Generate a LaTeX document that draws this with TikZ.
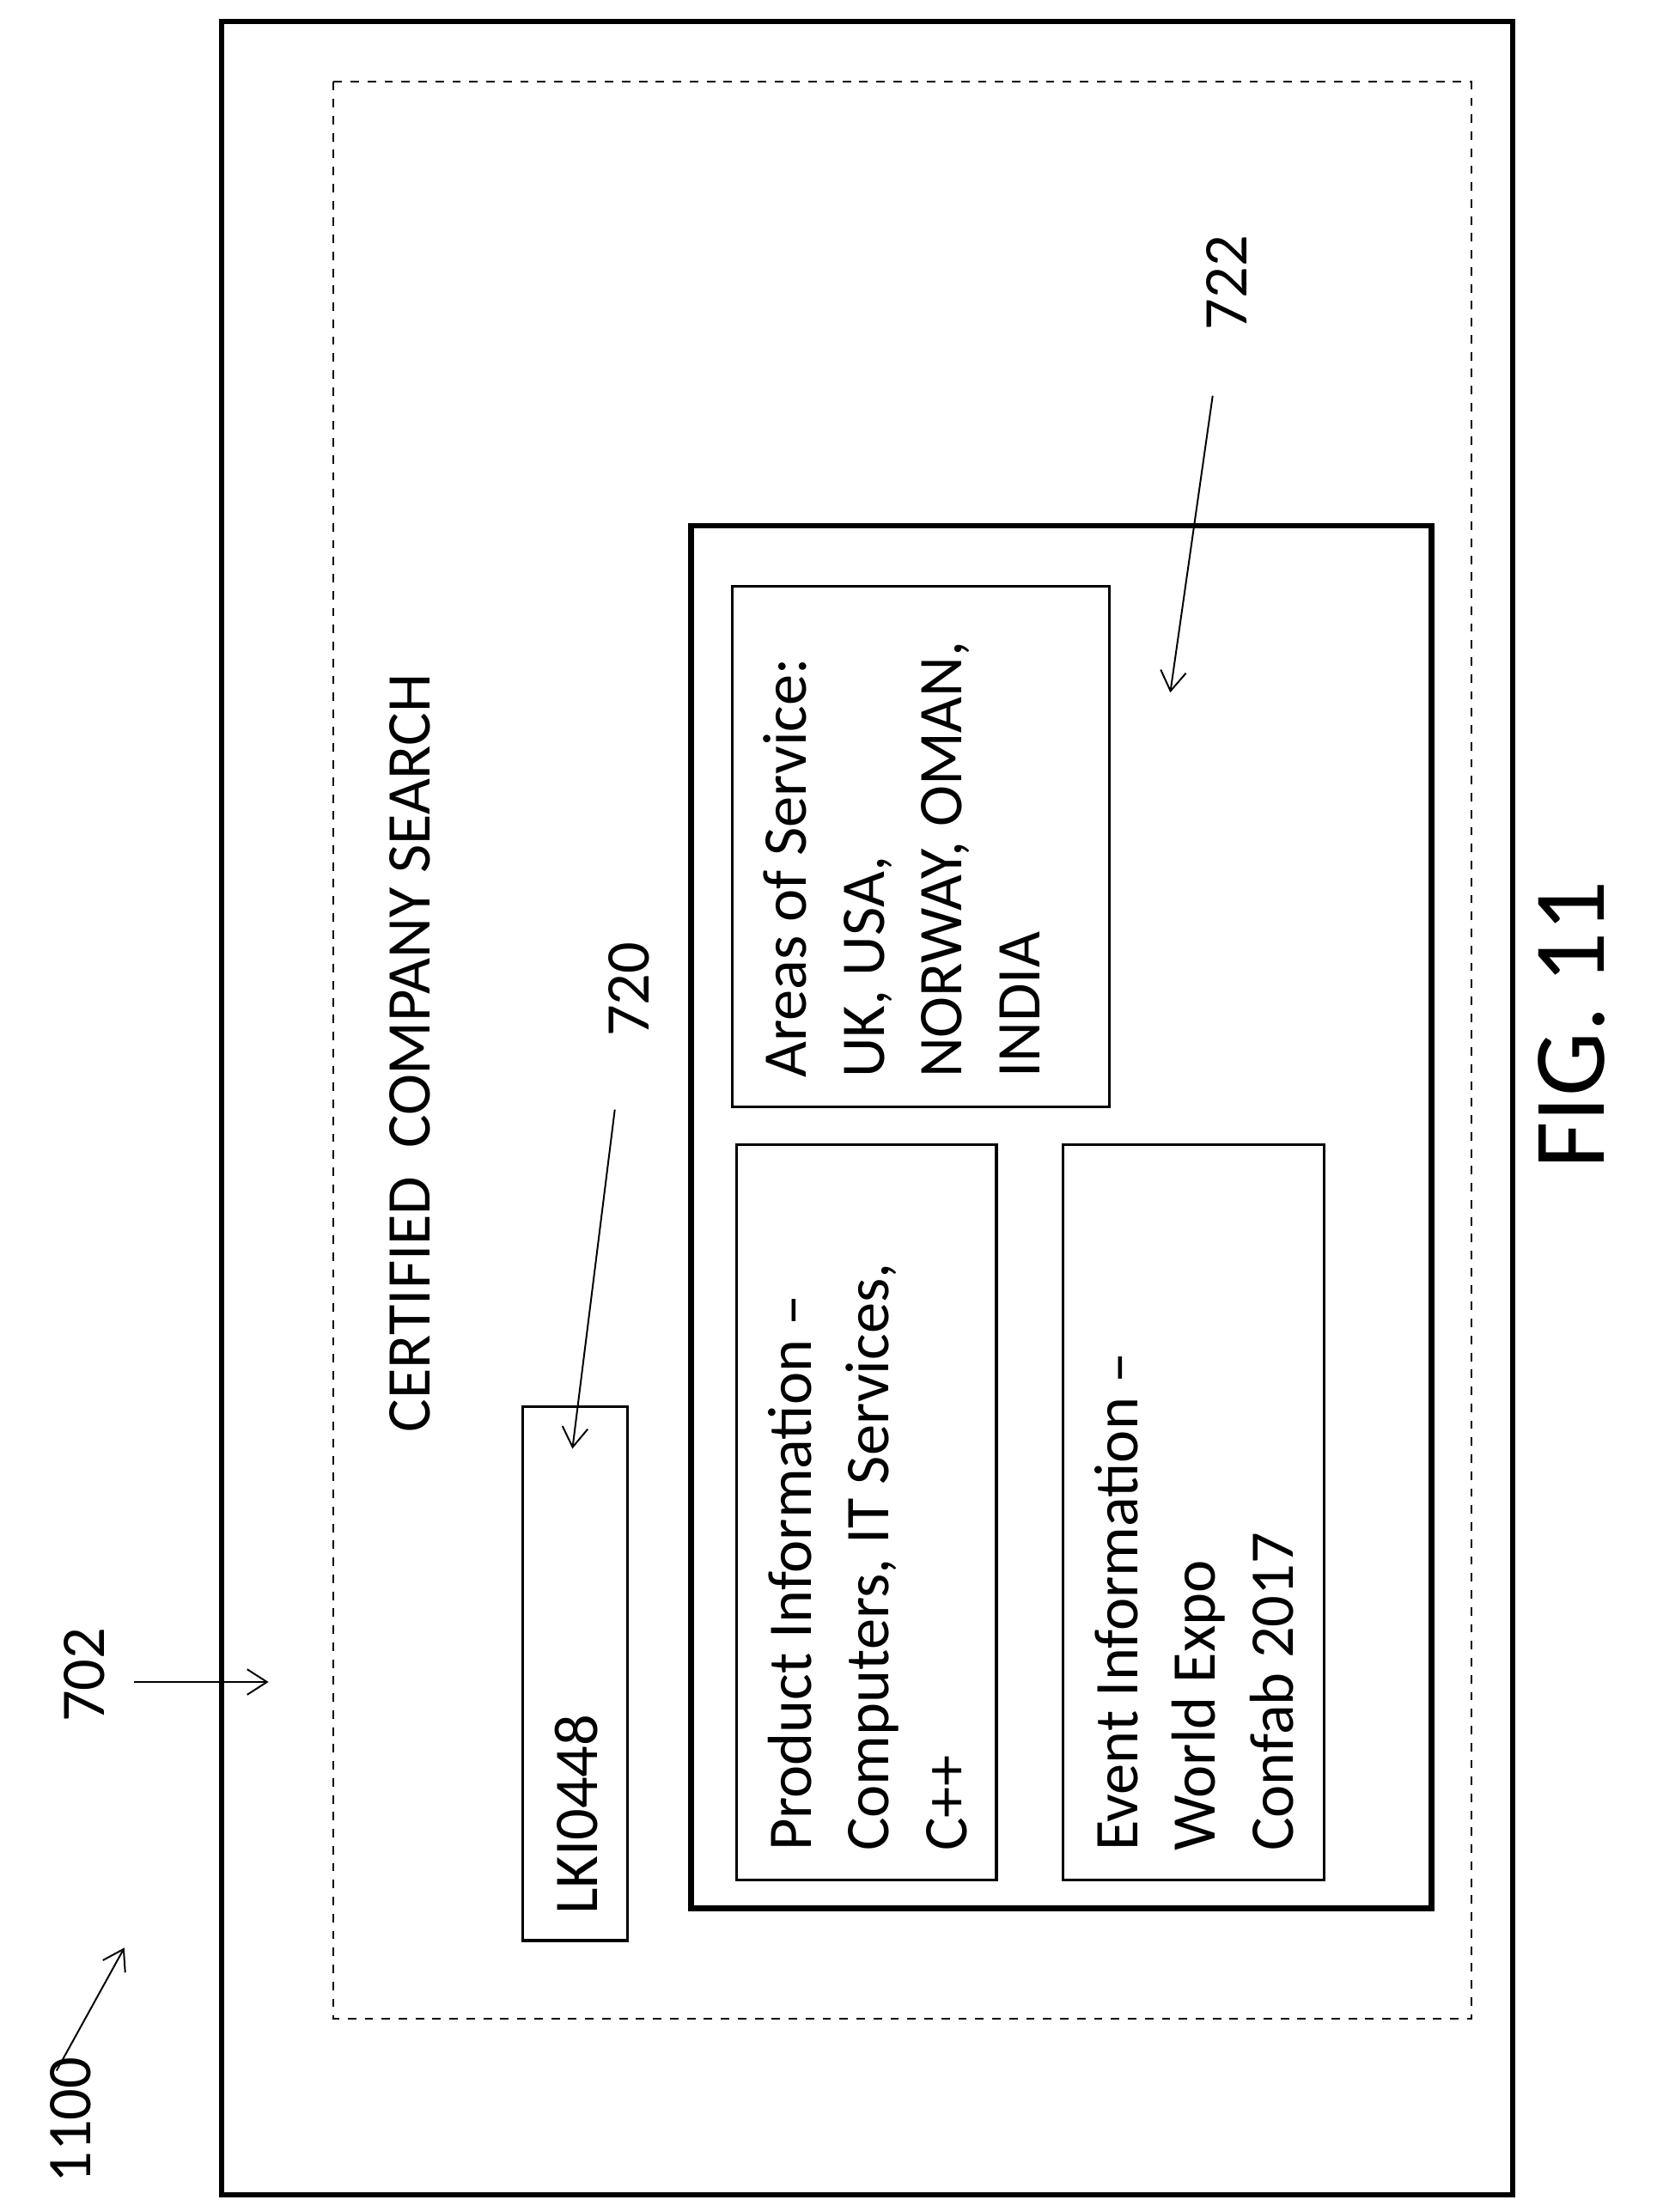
\documentclass[tikz,border=0pt]{standalone}
\usepackage{fontspec}
\setmainfont{Carlito}
\usetikzlibrary{arrows.meta}
\begin{document}
\begin{tikzpicture}[x=0.5pt,y=-0.5pt,
  txt/.style={rotate=90,font=\fontsize{22}{27.5}\selectfont,align=left,inner sep=0pt},
  lab/.style={rotate=90,font=\fontsize{22}{26}\selectfont,inner sep=0pt},
  arr/.style={-{Straight Barb[length=7pt,width=9pt]},line width=0.6pt},
  box/.style={draw,line width=1pt}]
\useasboundingbox (0,0) rectangle (1172,1565);
\draw[line width=1.8pt] (157,15) rectangle (1070,1553);
\draw[dashed,line width=0.6pt] (236,58) rectangle (1041,1428);
\node[lab] (title) at (290,745) {CERTIFIED\ \ COMPANY SEARCH};
\draw[box] (370,995) rectangle (444,1373);
\node[txt,anchor=north west] (lki) at (392,1355) {LKI0448};
\node[lab] (l720) at (445,700) {720};
\draw[arr] (435,785) -- (405,1025);
\draw[line width=2pt] (489,372) rectangle (1013,1350);
\draw[box] (518,415) rectangle (785,783);
\node[txt,anchor=north west] (areas) at (540,763) {Areas of Service:\\UK, USA,\\NORWAY, OMAN,\\INDIA};
\draw[box] (521,810) rectangle (705,1330);
\node[txt,anchor=north west] (prod) at (543,1310) {Product Information --\\Computers, IT Services,\\C++};
\draw[box] (752,810) rectangle (937,1330);
\node[txt,anchor=north west] (event) at (774,1310) {Event Information --\\World Expo\\Confab 2017};
\node[lab] (l722) at (868,200) {722};
\draw[arr] (858,280) -- (828,490);
\node[lab] (l702) at (60,1185) {702};
\draw[arr] (95,1190) -- (190,1190);
\node[lab] (l1100) at (50,1500) {1100};
\draw[arr] (40,1465) -- (88,1378);
\node[rotate=90,font=\fontsize{36}{40}\selectfont] (fig) at (1112,725) {FIG. 11};
\end{tikzpicture}
\end{document}
